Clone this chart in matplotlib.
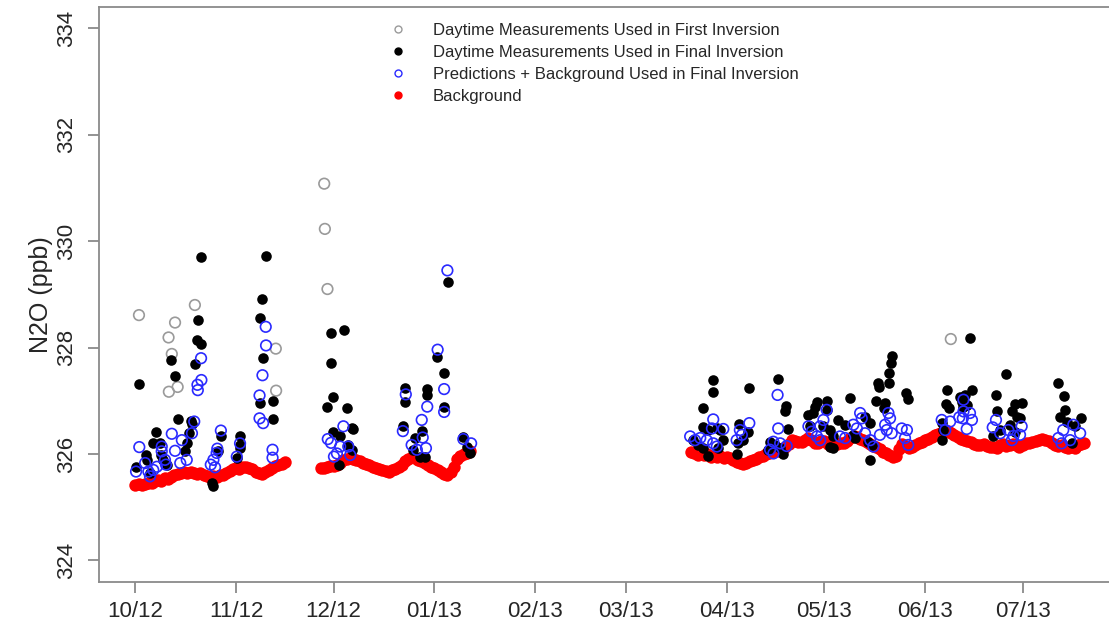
import numpy as np
import matplotlib
matplotlib.use("Agg")
import matplotlib.pyplot as plt
import matplotlib.dates as mdates
from matplotlib.lines import Line2D

# ---- data: days since 2012-10-01 and N2O mole fraction (ppb) ----
start_date = np.datetime64("2012-10-01")

first_days = [1.1, 18.3, 12.2, 10.2, 11.2, 10.3, 13.0, 43.2, 43.3, 58.1, 58.3, 59.1, 250.9]
first_ppb = [328.61, 328.80, 328.47, 328.19, 327.88, 327.17, 327.26, 327.98, 327.19,
             331.08, 330.23, 329.10, 328.16]

final_days = [
    20.2, 40.2, 39.1, 38.2, 39.3, 38.3, 42.3, 42.2, 19.2, 18.9, 20.2, 18.2, 11.1, 12.3, 1.2,
    13.2, 17.1, 17.4, 6.2, 5.5, 7.6, 16.6, 15.8, 15.3, 26.3, 25.4, 32.3, 32.2, 32.2, 31.2,
    3.3, 3.5, 0.2, 8.4, 4.5, 23.5, 24.0, 7.9, 9.7,
    60.2, 64.2, 60.1, 60.9, 59.1, 65.2, 60.9, 63.0, 66.6, 67.1, 62.5, 65.5, 66.6,
    96.3, 92.9, 95.0, 95.0, 83.0, 83.0, 89.8, 89.8, 82.2, 88.1, 86.1, 87.6, 89.1, 85.5,
    100.9, 102.0, 103.0,
    177.8, 177.8, 174.8, 188.9, 197.8, 200.2, 199.9, 174.6, 176.3, 178.9, 179.9, 171.7,
    173.2, 174.8, 176.3, 179.4, 180.9, 185.8, 185.5, 185.2, 188.6, 187.1, 195.3, 196.8,
    198.4, 199.4, 194.8, 200.9, 207.1, 208.6, 209.7, 209.1, 207.6,
    232.7, 232.5, 232.0, 232.0, 228.6, 228.9, 237.1, 237.8, 219.9, 212.7, 212.7, 227.9,
    230.7, 230.2, 216.3, 218.4, 224.5, 226.1, 211.7, 213.8, 214.8, 220.9, 221.4, 213.8,
    214.8, 225.5, 226.6, 226.1, 249.8, 249.4, 250.2, 253.8, 254.3, 254.8, 248.1, 248.6,
    248.1, 256.8, 257.4, 255.3, 255.8, 267.9, 264.8, 265.0, 263.8, 270.7, 272.7, 269.7,
    271.2, 272.2, 269.1, 266.1, 270.7, 283.8, 285.8, 286.1, 284.6, 286.6, 290.9, 289.1, 288.1,
]
final_ppb = [
    329.71, 329.72, 328.91, 328.55, 327.81, 326.95, 327.00, 326.65, 328.51, 328.14, 328.07,
    327.69, 327.76, 327.47, 327.32, 326.65, 326.62, 326.57, 326.41, 326.20, 326.21, 326.39,
    326.20, 326.05, 326.33, 326.05, 326.33, 326.11, 326.17, 325.92, 325.98, 325.89, 325.75,
    325.89, 325.64, 325.45, 325.39, 325.98, 325.80,
    328.27, 328.33, 327.71, 327.07, 326.89, 326.86, 326.42, 326.33, 326.48, 326.47, 325.80,
    326.17, 326.08,
    329.24, 327.83, 327.52, 326.89, 327.24, 326.97, 327.22, 327.11, 326.53, 326.43, 326.30,
    325.95, 325.95, 326.08, 326.32, 326.14, 326.01,
    327.39, 327.17, 326.87, 327.24, 327.41, 326.90, 326.80, 326.50, 326.45, 326.48, 326.45,
    326.26, 326.17, 326.11, 325.96, 326.11, 326.26, 326.57, 326.20, 326.00, 326.42, 326.26,
    326.23, 326.17, 326.11, 326.00, 326.08, 326.47, 326.73, 326.77, 326.98, 326.89, 326.52,
    327.84, 327.71, 327.52, 327.34, 327.34, 327.26, 327.14, 327.03, 327.05, 327.00, 326.83,
    327.00, 326.95, 326.86, 326.64, 326.55, 326.70, 326.58, 326.52, 326.45, 326.33, 326.36,
    326.30, 326.14, 326.11, 326.23, 326.17, 325.89, 327.20, 326.94, 326.86, 327.08, 326.98,
    326.89, 326.58, 326.45, 326.26, 328.18, 327.20, 327.11, 326.92, 327.51, 327.11, 326.81,
    326.33, 326.94, 326.95, 326.80, 326.70, 326.67, 326.55, 326.45, 326.42, 327.33, 327.09,
    326.83, 326.69, 326.61, 326.67, 326.52, 326.20,
]

pred_days = [
    40.1, 40.2, 39.1, 38.2, 38.2, 39.3, 42.2, 42.2, 20.2, 20.3, 19.1, 19.2, 18.1, 17.4, 14.3,
    11.2, 12.2, 1.2, 26.3, 25.2, 25.0, 24.0, 23.2, 24.5, 32.2, 31.2, 8.1, 8.1, 9.1, 9.4,
    15.8, 13.8, 6.6, 5.5, 3.0, 4.0, 4.5, 0.2,
    96.0, 93.0, 95.0, 95.0, 83.2, 89.8, 88.1, 82.3, 88.4, 85.0, 86.6, 89.4, 64.0, 59.2,
    60.2, 63.0, 62.0, 61.1, 66.1, 65.5, 100.9, 103.3,
    177.8, 177.4, 170.7, 172.2, 173.8, 175.8, 177.8, 178.9, 180.9, 185.0, 186.0, 188.9,
    186.6, 197.6, 197.8, 196.3, 198.4, 200.4, 195.3, 196.3, 207.1, 208.1, 209.7, 210.7,
    212.7, 211.7, 210.7, 223.0, 223.5, 220.9, 222.0, 216.8, 218.4, 224.5, 226.1, 227.1,
    231.7, 232.2, 230.7, 231.2, 229.1, 232.7, 235.8, 237.4, 236.8, 237.8, 248.1, 249.2,
    253.5, 254.8, 250.7, 254.8, 254.6, 256.8, 257.4, 255.8, 264.8, 263.8, 266.1, 268.6,
    270.2, 269.7, 272.7, 272.2, 285.5, 284.0, 285.0, 288.6, 290.7, 287.6,
]
pred_ppb = [
    328.39, 328.04, 327.48, 327.10, 326.67, 326.58, 326.08, 325.93, 327.80, 327.39, 327.30,
    327.20, 326.61, 326.39, 326.26, 326.38, 326.06, 326.13, 326.44, 326.10, 326.02, 325.89,
    325.80, 325.75, 326.20, 325.95, 326.14, 326.05, 325.89, 325.80, 325.89, 325.83, 325.76,
    325.70, 325.83, 325.67, 325.58, 325.67,
    329.45, 327.96, 327.22, 326.79, 327.12, 326.89, 326.64, 326.43, 326.31, 326.17, 326.08,
    326.11, 326.52, 326.28, 326.21, 326.14, 326.01, 325.95, 325.98, 326.14, 326.28, 326.20,
    326.65, 326.48, 326.33, 326.26, 326.30, 326.26, 326.20, 326.14, 326.47, 326.26, 326.45,
    326.58, 326.36, 327.11, 326.48, 326.23, 326.20, 326.15, 326.08, 326.01, 326.52, 326.42,
    326.33, 326.26, 326.83, 326.64, 326.52, 326.77, 326.67, 326.55, 326.48, 326.33, 326.30,
    326.39, 326.26, 326.14, 326.77, 326.67, 326.55, 326.45, 326.36, 326.39, 326.48, 326.45,
    326.30, 326.17, 326.64, 326.45, 326.69, 326.80, 326.61, 327.02, 326.67, 326.77, 326.64,
    326.47, 326.64, 326.50, 326.39, 326.45, 326.34, 326.26, 326.52, 326.36, 326.45, 326.30,
    326.20, 326.55, 326.39, 326.26,
]

# background: three daily segments (first day of each segment, then daily values)
bg_seg_start = [0, 57, 171]
bg_seg1 = [325.42, 325.43, 325.41, 325.44, 325.45, 325.46, 325.49, 325.52, 325.50, 325.54,
           325.53, 325.56, 325.60, 325.63, 325.65, 325.66, 325.64, 325.67, 325.65, 325.63,
           325.64, 325.61, 325.58, 325.56, 325.59, 325.57, 325.61, 325.60, 325.64, 325.68,
           325.71, 325.73, 325.72, 325.75, 325.76, 325.74, 325.72, 325.67, 325.64, 325.63,
           325.66, 325.70, 325.74, 325.77, 325.79, 325.82, 325.85]
bg_seg2 = [325.73, 325.74, 325.76, 325.78, 325.77, 325.80, 325.84, 325.88, 325.91, 325.92,
           325.90, 325.88, 325.86, 325.83, 325.81, 325.79, 325.76, 325.74, 325.72, 325.70,
           325.68, 325.67, 325.69, 325.71, 325.75, 325.80, 325.86, 325.91, 325.95, 325.92,
           325.89, 325.86, 325.83, 325.79, 325.76, 325.73, 325.69, 325.66, 325.63, 325.61,
           325.66, 325.76, 325.90, 325.96, 326.00, 326.02, 326.05]
bg_seg3 = [326.03, 326.02, 325.99, 326.01, 325.98, 326.00, 325.95, 325.97, 325.94, 325.96,
           325.93, 325.95, 325.92, 325.88, 325.85, 325.83, 325.81, 325.84, 325.86, 325.88,
           325.91, 325.95, 325.97, 326.00, 326.01, 326.03, 326.05, 326.06, 326.08, 326.13,
           326.19, 326.26, 326.25, 326.23, 326.22, 326.27, 326.30, 326.26, 326.21, 326.20,
           326.25, 326.24, 326.18, 326.15, 326.17, 326.19, 326.21, 326.20, 326.25, 326.30,
           326.33, 326.31, 326.28, 326.27, 326.22, 326.18, 326.15, 326.13, 326.09, 326.04,
           326.01, 325.98, 325.95, 325.97, 326.10, 326.19, 326.15, 326.11, 326.13, 326.17,
           326.20, 326.22, 326.26, 326.29, 326.31, 326.35, 326.38, 326.40, 326.42, 326.43,
           326.40, 326.36, 326.32, 326.28, 326.26, 326.24, 326.22, 326.19, 326.17, 326.16,
           326.18, 326.15, 326.13, 326.14, 326.12, 326.16, 326.18, 326.15, 326.17, 326.19,
           326.16, 326.14, 326.17, 326.20, 326.21, 326.23, 326.25, 326.27, 326.28, 326.26,
           326.24, 326.20, 326.17, 326.15, 326.17, 326.13, 326.11, 326.14, 326.12, 326.16,
           326.19, 326.21]

month_ticks = ["2012-10-01", "2012-11-01", "2012-12-01", "2013-01-01", "2013-02-01",
               "2013-03-01", "2013-04-01", "2013-05-01", "2013-06-01", "2013-07-01"]
y_ticks = [324, 326, 328, 330, 332, 334]
legend_labels = ["Daytime Measurements Used in First Inversion",
                 "Daytime Measurements Used in Final Inversion",
                 "Predictions + Background Used in Final Inversion",
                 "Background"]


def to_dates(days):
    minutes = np.round(np.asarray(days, dtype=float) * 1440).astype("timedelta64[m]")
    return start_date.astype("datetime64[m]") + minutes


bg_days = np.concatenate([s + np.arange(len(v)) for s, v in
                          zip(bg_seg_start, [bg_seg1, bg_seg2, bg_seg3])])
bg_ppb = np.concatenate([bg_seg1, bg_seg2, bg_seg3])

plt.rcParams["font.family"] = ["Liberation Sans", "DejaVu Sans"]

W, H = 1109, 627
fig = plt.figure(figsize=(W / 100, H / 100), dpi=100)
ax = fig.add_axes([99 / W, (H - 581.7) / H, (1112 - 99) / W, (581.7 - 7) / H])

axis_grey = "#8a8a8a"
ms = 58

ax.scatter(to_dates(bg_days), bg_ppb, s=80, color="#ff0000", linewidths=0, zorder=2)
ax.scatter(to_dates(first_days), first_ppb, s=ms, facecolors="none",
           edgecolors="#9a9a9a", linewidths=1.2, zorder=3)
ax.scatter(to_dates(final_days), final_ppb, s=ms, color="black", linewidths=0, zorder=4)
ax.scatter(to_dates(pred_days), pred_ppb, s=ms, facecolors="none",
           edgecolors="#2a2aff", linewidths=1.2, zorder=5)

ax.set_xlim(to_dates([-11.2])[0], to_dates([300.5])[0])
ax.set_ylim(323.6, 334.4)

ax.set_xticks(np.array(month_ticks, dtype="datetime64[D]"))
ax.xaxis.set_major_formatter(mdates.DateFormatter("%m/%y"))
ax.set_yticks(y_ticks)

for sp in ax.spines.values():
    sp.set_color(axis_grey)
    sp.set_linewidth(1.3)

ax.tick_params(axis="both", colors=axis_grey, length=8, width=1.3,
               labelcolor="#262626", labelsize=16)
ax.tick_params(axis="x", pad=6)
ax.tick_params(axis="y", pad=8)
for lab in ax.get_yticklabels():
    lab.set_rotation(90)
    lab.set_va("center")
    lab.set_ha("right")

ax.set_ylabel("N2O (ppb)", fontsize=18, color="#262626", labelpad=2)

handles = [
    Line2D([], [], ls="none", marker="o", ms=5, mfc="none", mec="#9a9a9a", mew=1.0),
    Line2D([], [], ls="none", marker="o", ms=5, mfc="black", mec="black"),
    Line2D([], [], ls="none", marker="o", ms=5, mfc="none", mec="#2a2aff", mew=1.0),
    Line2D([], [], ls="none", marker="o", ms=5, mfc="#ff0000", mec="#ff0000"),
]
leg = ax.legend(handles, legend_labels, loc="upper left",
                bbox_to_anchor=((378 - 99) / (1112 - 99), 1 - 4 / 574.7),
                frameon=False, fontsize=12, handlelength=1.0, handletextpad=1.6,
                labelspacing=0.42, borderpad=0.2)
for t in leg.get_texts():
    t.set_color("#262626")

fig.savefig("out.png", dpi=100)
